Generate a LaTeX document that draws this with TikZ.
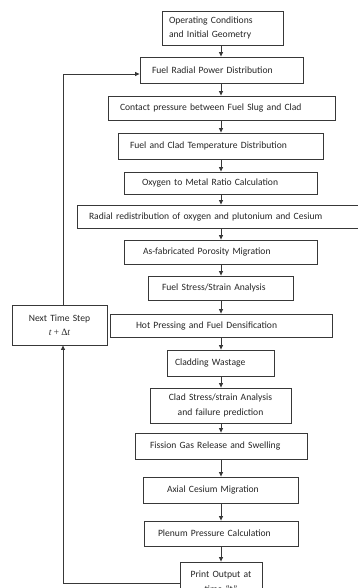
\documentclass[tikz,border=0pt]{standalone}
\usepackage{fontspec}
\setmainfont{Carlito}
\usetikzlibrary{arrows.meta}

\definecolor{edgegray}{HTML}{383838}
\definecolor{inkgray}{HTML}{262626}

% one process box: name, left, top, right, bottom, left padding, alignment, text
\newcommand\procbox[8]{%
  \pgfmathsetmacro\bw{#4-#2}%
  \pgfmathsetmacro\bh{#5-#3}%
  \pgfmathsetmacro\tw{#4-#2-2*#6}%
  \pgfmathsetmacro\cx{(#2+#4)/2}%
  \pgfmathsetmacro\cy{(#3+#5)/2}%
  \node[stepbox, minimum width=\bw pt, minimum height=\bh pt,
        text width=\tw pt, inner xsep=#6 pt, align=#7] (#1) at (\cx,\cy) {#8};%
}

\begin{document}
\begin{tikzpicture}[x=1pt, y=-1pt,
  stepbox/.style={draw=edgegray, line width=0.85pt, fill=white, text=inkgray,
    inner ysep=0pt, font=\fontsize{9.6}{14.5}\selectfont},
  flow/.style={draw=edgegray, line width=0.85pt,
    -{Triangle[length=4.5pt, width=4pt]}},
  link/.style={draw=edgegray, line width=0.85pt}]
\useasboundingbox (0,0) rectangle (357,588);

\procbox{b1}{162}{11}{283}{45}{7}{left}{Operating Conditions\\and Initial Geometry}
\procbox{b2}{140}{57}{303}{83}{12}{left}{Fuel Radial Power Distribution}
\procbox{b3}{108}{96}{335}{120}{12}{left}{Contact pressure between Fuel Slug and Clad}
\procbox{b4}{118}{133}{323}{159}{12}{left}{Fuel and Clad Temperature Distribution}
\procbox{b5}{124}{172}{317}{194}{18}{left}{Oxygen to Metal Ratio Calculation}
\procbox{b6}{77}{205}{363}{228}{12}{left}{Radial redistribution of oxygen and plutonium and Cesium}
\procbox{b7}{124}{240}{317}{264}{19}{left}{As-fabricated Porosity Migration}
\procbox{b8}{148}{276}{293}{300}{14}{left}{Fuel Stress/Strain Analysis}
\procbox{b9}{110}{314}{332}{337}{26}{left}{Hot Pressing and Fuel Densification}
\procbox{b10}{167}{350}{274}{376}{8}{left}{Cladding Wastage}
\procbox{b11}{150}{388}{291}{423}{4}{center}{Clad Stress/strain Analysis\\and failure prediction}
\procbox{b12}{135}{433}{307}{459}{15}{left}{Fission Gas Release and Swelling}
\procbox{b13}{143}{477}{298}{503}{24}{left}{Axial Cesium Migration}
\procbox{b14}{144}{521}{298}{546}{14}{left}{Plenum Pressure Calculation}
\procbox{b15}{180}{562}{262}{601}{3}{center}{Print Output at\\time “t”}
\procbox{next}{12}{305}{107}{345}{3}{center}{Next Time Step\\[-1pt]{\fontspec{Liberation Serif}\itshape t\,+\,}{\fontspec{Liberation Serif}Δ}{\fontspec{Liberation Serif}\itshape t}}

% main chain runs down one vertical line
\coordinate (spine) at (221,0);
\foreach \a/\b in {b1/b2,b2/b3,b3/b4,b4/b5,b5/b6,b6/b7,b7/b8,b8/b9,
                   b9/b10,b10/b11,b11/b12,b12/b13,b13/b14,b14/b15}
  \draw[flow] (\a.south -| spine) -- (\b.north -| spine);

% time-step loop back to the power distribution
\coordinate (loopx) at (63,0);
\coordinate (outy) at (0,583);
\coordinate (iny) at (0,74);
\draw[flow] (b15.west |- outy) -| (next.south -| loopx);
\draw[flow] (next.north -| loopx) |- (b2.west |- iny);
\end{tikzpicture}
\end{document}
